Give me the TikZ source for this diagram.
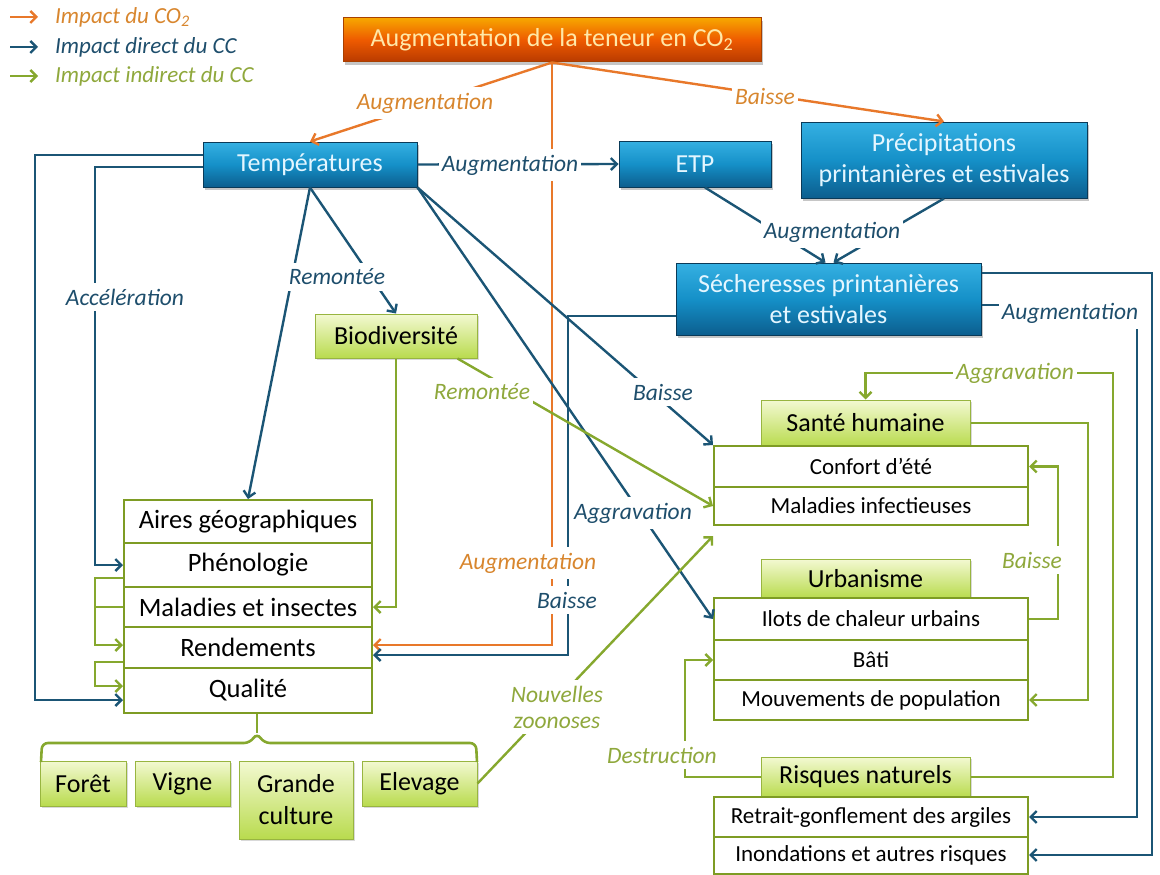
\documentclass[tikz,border=0pt]{standalone}
\usepackage{fontspec}
\setmainfont{Carlito}
\usetikzlibrary{arrows.meta,shadows,calc}
\definecolor{lblue}{HTML}{1B5575}
\definecolor{lorange}{HTML}{E8782A}
\definecolor{lgreen}{HTML}{86A82E}
\definecolor{tblue}{HTML}{1E4E6C}
\definecolor{torange}{HTML}{D8862E}
\definecolor{tgreen}{HTML}{8FA83C}
\definecolor{sgreen}{HTML}{7E9C24}
\definecolor{bluetop}{HTML}{35B0E2}
\definecolor{bluemid}{HTML}{1590C8}
\definecolor{bluebot}{HTML}{0C5E8E}
\definecolor{blueedge}{HTML}{0A3A58}
\definecolor{bluetext}{HTML}{E4F6FF}
\definecolor{ortop}{HTML}{F7A600}
\definecolor{ormid}{HTML}{EE5A00}
\definecolor{orbot}{HTML}{B83A00}
\definecolor{oredge}{HTML}{A84000}
\definecolor{ortext}{HTML}{FFE8A8}
\definecolor{gtop}{HTML}{F3F9D2}
\definecolor{gbot}{HTML}{B9DB4E}
\definecolor{gedge}{HTML}{98B540}
\begin{document}
\begin{tikzpicture}[x=1pt,y=-1pt,
  tip/.style={-{Straight Barb[length=6pt,width=12pt]}},
  lb/.style={draw=lblue, line width=2.4pt},
  lo/.style={draw=lorange, line width=2.4pt},
  lg/.style={draw=lgreen, line width=2.4pt},
  lab/.style={fill=white, inner xsep=3pt, inner ysep=6pt, font=\fontsize{23.5}{26}\selectfont\itshape, align=center},
  labb/.style={lab, text=tblue},
  labo/.style={lab, text=torange},
  labg/.style={lab, text=tgreen},
  wh/.style n args={2}{minimum width=#1pt, minimum height=#2pt},
  bluebox/.style={draw=blueedge, line width=1pt, top color=bluetop, bottom color=bluebot, middle color=bluemid, text=bluetext, font=\fontsize{26}{31}\selectfont, align=center, inner sep=0pt, drop shadow={opacity=0.45, shadow xshift=2pt, shadow yshift=-3pt}},
  orbox/.style={draw=oredge, line width=1pt, top color=ortop, bottom color=orbot, middle color=ormid, text=ortext, font=\fontsize{26}{31}\selectfont, align=center, inner sep=0pt, drop shadow={opacity=0.45, shadow xshift=2pt, shadow yshift=-3pt}},
  gbox/.style={draw=gedge, line width=1pt, top color=gtop, bottom color=gbot, text=black, font=\fontsize{26}{32}\selectfont, align=center, inner sep=0pt, drop shadow={opacity=0.3, shadow xshift=2pt, shadow yshift=-2pt}},
  row/.style={draw=sgreen, line width=2pt, fill=white, inner sep=0pt, font=\fontsize{26.5}{28}\selectfont},
  rowr/.style={row, font=\fontsize{23}{24}\selectfont},
  legtext/.style={anchor=west, inner sep=0pt, font=\fontsize{23}{25}\selectfont\itshape}
]
\useasboundingbox (0,0) rectangle (1160,875);

% ---------- legend ----------
\draw[lo,tip] (10,17) -- (38,17);
\node[legtext, text=torange] (leg1) at (55,17) {Impact du CO\textsubscript{2}};
\draw[lb,tip] (10,47) -- (38,47);
\node[legtext, text=tblue] (leg2) at (55,47) {Impact direct du CC};
\draw[lg,tip] (10,76) -- (38,76);
\node[legtext, text=tgreen] (leg3) at (55,76) {Impact indirect du CC};

% ---------- boxes ----------
\node[orbox, wh={418}{44}] (co2) at (552,40) {Augmentation de la teneur en CO\textsubscript{2}};
\node[bluebox, wh={214}{45}] (temp) at (310,164.5) {Températures};
\node[bluebox, wh={152}{46}] (etp) at (695,164) {ETP};
\node[bluebox, wh={286}{76}] (prec) at (944,160) {Précipitations\\printanières et estivales};
\node[bluebox, wh={305}{72}] (sech) at (828.5,299) {Sécheresses printanières\\et estivales};
\node[gbox, wh={162}{44}] (bio) at (396,336) {Biodiversité};

\node[row, wh={248}{43}] (aires) at (248,521.5) {Aires géographiques};
\node[row, wh={248}{44}] (pheno) at (248,565) {Phénologie};
\node[row, wh={248}{40}] (malad) at (248,607) {Maladies et insectes};
\node[row, wh={248}{41}] (rend) at (248,647.5) {Rendements};
\node[row, wh={248}{45}] (qual) at (248,690.5) {Qualité};

\node[gbox, wh={86}{45}] (foret) at (83,783.5) {Forêt};
\node[gbox, wh={95}{45}] (vigne) at (182.5,783.5) {Vigne};
\node[gbox, wh={114}{78}] (grande) at (296,800) {Grande\\culture};
\node[gbox, wh={115}{45}] (elev) at (419.5,783.5) {Elevage};

\node[gbox, wh={209}{46}] (santeh) at (865.5,423) {Santé humaine};
\node[rowr, wh={314}{41}] (confort) at (871,466.5) {Confort d’été};
\node[rowr, wh={314}{38}] (malinf) at (871,506) {Maladies infectieuses};
\node[gbox, wh={209}{39}] (urbh) at (865.5,578.5) {Urbanisme};
\node[rowr, wh={314}{42}] (ilots) at (871,619) {Ilots de chaleur urbains};
\node[rowr, wh={314}{40}] (bati) at (871,660) {Bâti};
\node[rowr, wh={314}{40}] (mouv) at (871,700) {Mouvements de population};
\node[gbox, wh={209}{40}] (riskh) at (865.5,777) {Risques naturels};
\node[rowr, wh={314}{40}] (retrait) at (871,817) {Retrait-gonflement des argiles};
\node[rowr, wh={314}{37}] (inond) at (871,855) {Inondations et autres risques};

% ---------- orange connectors ----------
\draw[lo,tip] (co2.south) -- (temp.north);
\draw[lo,tip] (co2.south) -- (prec.north);
\draw[lo,tip] (co2.south) |- (rend.east |- 0,645);

% ---------- blue connectors ----------
\draw[lb,tip] (temp.east) -- (etp.west);
\draw[lb,tip] (temp.west |- 0,155) -- (35,155) |- (qual.west |- 0,700);
\draw[lb,tip] (temp.west |- 0,167) -- (95,167) |- (pheno.west);
\draw[lb,tip] (temp.south) -- (aires.north);
\draw[lb,tip] (temp.south) -- (bio.north);
\draw[lb,tip] (temp.south east) -- (confort.north west);
\draw[lb,tip] (temp.south east) -- (ilots.west);
\draw[lb,tip] ($(etp.south)+(10,0)$) -- ($(sech.north)+(-3,0)$);
\draw[lb,tip] (prec.south) -- ($(sech.north)+(5,0)$);
\draw[lb,tip] (sech.west |- 0,316) -- (568,316) |- (rend.east |- 0,655);
\draw[lb,tip] (sech.east |- 0,273) -- (1152,273) |- (inond.east);
\draw[lb,tip] (sech.east |- 0,305) -- (1137,305) |- (retrait.east);

% ---------- green connectors ----------
\draw[lg,tip] (pheno.west |- 0,578) -- (95,578) |- (rend.west |- 0,645);
\draw[lg] (malad.west) -- (95,607);
\draw[lg,tip] (rend.west |- 0,662) -- (95,662) |- (qual.west |- 0,686);
\draw[lg,tip] (bio.south) |- (malad.east);
\draw[lg,tip] ($(bio.south east)+(-20,0)$) -- (malinf.west);
\draw[lg,tip] (elev.east) -- ($(malinf.south west)+(0,10)$);
\draw[lg,tip] (riskh.east) -- (1113,777) |- (santeh.north |- 0,373) -- (santeh.north);
\draw[lg,tip] (santeh.east) -- (1088,423) |- (mouv.east);
\draw[lg,tip] (ilots.east) -- (1058,619) |- (confort.east);
\draw[lg,tip] (riskh.west) -- (685,777) |- (bati.west);

% bracket under the left stack
\coordinate (bn) at (257,733);
\draw[lg, line width=2.6pt] (qual.south -| bn) -- (bn);
\draw[lg, line width=2.6pt, rounded corners=6pt] (41,762) -- (42,743) -- (250,743) -- (bn) -- (264,743) -- (476,743) -- (477,762);

% ---------- labels ----------
\node[labo] (l1) at (425,103) {Augmentation};
\node[labo] (l2) at (765,97) {Baisse};
\node[labb] (l3) at (510,165) {Augmentation};
\node[labb] (l4) at (125,297) {Accélération};
\node[labb] (l5) at (337,277) {Remontée};
\node[labb] (l6) at (832,232) {Augmentation};
\node[labb] (l7) at (1070,313) {Augmentation};
\node[labg] (l8) at (482,392) {Remontée};
\node[labb] (l9) at (663,392) {Baisse};
\node[labg] (l10) at (1015,373) {Aggravation};
\node[labb] (l11) at (633,513) {Aggravation};
\node[labg] (l12) at (1032,560) {Baisse};
\node[labo] (l13) at (528,563) {Augmentation};
\node[labb] (l14) at (567,600) {Baisse};
\node[labg] (l15) at (557,707) {Nouvelles\\zoonoses};
\node[labg] (l16) at (662,755) {Destruction};
\end{tikzpicture}
\end{document}
